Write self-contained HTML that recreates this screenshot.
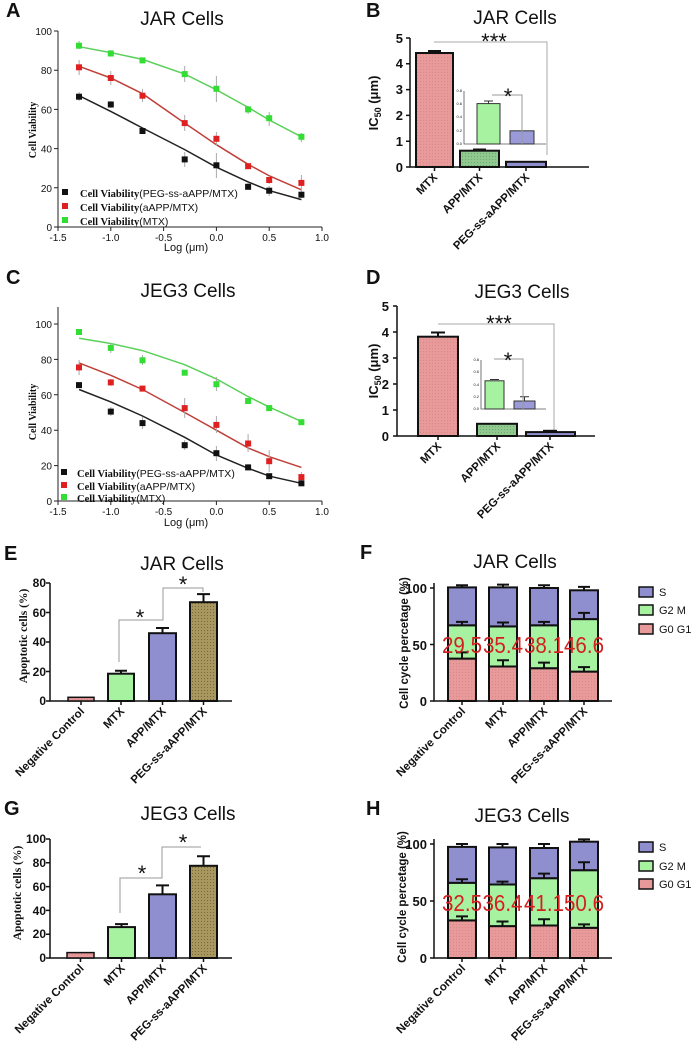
<!DOCTYPE html>
<html><head><meta charset="utf-8"><style>
body{margin:0;background:#fff}
svg{display:block}
text{font-family:"Liberation Sans",sans-serif;fill:#111}
.t{font-size:19px}
.L{font-size:20px;font-weight:bold}
.tk{font-size:10px}
.bt{font-size:13px;font-weight:bold}
.bt2{font-size:12px;font-weight:bold}
.xl{font-size:11.5px;font-weight:bold}
.ser{font-family:"Liberation Serif",serif;font-weight:bold}
text.red{fill:#d42020;font-size:23px}
</style></head><body>
<svg width="694" height="1047" viewBox="0 0 694 1047" xmlns="http://www.w3.org/2000/svg">
<defs>
<pattern id="pk" width="3" height="3" patternUnits="userSpaceOnUse"><rect width="3" height="3" fill="#e89a9a"/><rect width="1" height="1" fill="#d98888"/></pattern>
<pattern id="gr" width="3" height="3" patternUnits="userSpaceOnUse"><rect width="3" height="3" fill="#8fc98f"/><rect width="1" height="1" fill="#6faa6f"/></pattern>
<pattern id="ol" width="3" height="3" patternUnits="userSpaceOnUse"><rect width="3" height="3" fill="#a89860"/><rect width="1" height="1" fill="#786838"/></pattern>
</defs>

<!-- ========== A ========== -->
<text x="6" y="17" class="L">A</text>
<text x="182" y="25" class="t" text-anchor="middle">JAR Cells</text>
<g stroke="#222" stroke-width="1" fill="none">
<path d="M58 31V227H322"/>
<path d="M58 227v4M110.8 227v4M163.6 227v4M216.4 227v4M269.2 227v4M322 227v4"/>
<path d="M58 227h-4M58 187.8h-4M58 148.6h-4M58 109.4h-4M58 70.2h-4M58 31h-4"/>
</g>
<g class="tk" text-anchor="middle"><text x="58" y="241">-1.5</text><text x="110.8" y="241">-1.0</text><text x="163.6" y="241">-0.5</text><text x="216.4" y="241">0.0</text><text x="269.2" y="241">0.5</text><text x="322" y="241">1.0</text></g>
<g class="tk" text-anchor="end"><text x="52" y="231">0</text><text x="52" y="191.8">20</text><text x="52" y="152.6">40</text><text x="52" y="113.4">60</text><text x="52" y="74.2">80</text><text x="52" y="35">100</text></g>
<text x="186" y="251" font-size="11" text-anchor="middle">Log (μm)</text>
<text transform="translate(36,130) rotate(-90)" font-size="10" class="ser" text-anchor="middle">Cell Viability</text>
<g fill="none" stroke-width="1.5">
<polyline stroke="#222" points="79.1,95.7 110.8,111.4 142.5,128 184.7,149.6 216.4,167.2 248.1,181.9 269.6,190.7 301.4,199.6"/>
<polyline stroke="#c0403a" points="79.1,66.3 110.8,78 142.5,93.7 184.7,123.1 216.4,144.7 248.1,164.3 269.6,176 301.4,189.8"/>
<polyline stroke="#5cd05c" points="79.1,46.7 110.8,52.6 142.5,59.4 184.7,74.1 216.4,89.8 248.1,107.4 269.6,120.2 301.4,136.8"/>
</g>
<g stroke="#aaa" stroke-width="1">
<path d="M79.1 92v9M110.8 101v7M142.5 128v6M184.7 152v15M216.4 153v25M248.1 183v7M269.2 186v10M301.4 190v8"/>
<path d="M79.1 60v15M110.8 71v14M142.5 89v13M184.7 115v16M216.4 132v14M248.1 163v6M269.2 176v8M301.4 175v16"/>
<path d="M79.1 41v8M110.8 50v6M142.5 58v5M184.7 66v16M216.4 76v26M248.1 106v8M269.2 112v14M301.4 133v9"/>
</g>
<g fill="#111"><rect x="76" y="93.7" width="6" height="6"/><rect x="107.8" y="101.5" width="6" height="6"/><rect x="139.5" y="128" width="6" height="6"/><rect x="181.7" y="156.4" width="6" height="6"/><rect x="213.4" y="162.3" width="6" height="6"/><rect x="245.1" y="183.8" width="6" height="6"/><rect x="266.2" y="187.7" width="6" height="6"/><rect x="298.4" y="191.7" width="6" height="6"/></g>
<g fill="#e02020"><rect x="76" y="64.3" width="6" height="6"/><rect x="107.8" y="75" width="6" height="6"/><rect x="139.5" y="92.7" width="6" height="6"/><rect x="181.7" y="120.1" width="6" height="6"/><rect x="213.4" y="135.8" width="6" height="6"/><rect x="245.1" y="163.2" width="6" height="6"/><rect x="266.2" y="177" width="6" height="6"/><rect x="298.4" y="179.9" width="6" height="6"/></g>
<g fill="#33dd33"><rect x="76" y="42.7" width="6" height="6"/><rect x="107.8" y="50.5" width="6" height="6"/><rect x="139.5" y="57.4" width="6" height="6"/><rect x="181.7" y="71.1" width="6" height="6"/><rect x="213.4" y="85.8" width="6" height="6"/><rect x="245.1" y="106.4" width="6" height="6"/><rect x="266.2" y="115.2" width="6" height="6"/><rect x="298.4" y="133.8" width="6" height="6"/></g>
<rect x="62" y="189" width="6" height="6" fill="#111"/><rect x="62" y="203" width="6" height="6" fill="#e02020"/><rect x="62" y="217" width="6" height="6" fill="#33dd33"/>
<g font-size="10.5"><text x="80" y="197"><tspan class="ser">Cell Viability</tspan>(PEG-ss-aAPP/MTX)</text><text x="80" y="211"><tspan class="ser">Cell Viability</tspan>(aAPP/MTX)</text><text x="80" y="225"><tspan class="ser">Cell Viability</tspan>(MTX)</text></g>

<!-- ========== C ========== -->
<text x="6" y="284" class="L">C</text>
<text x="188" y="297" class="t" text-anchor="middle">JEG3 Cells</text>
<g stroke="#222" stroke-width="1" fill="none">
<path d="M58 307V501H322"/>
<path d="M58 501v4M110.8 501v4M163.6 501v4M216.4 501v4M269.2 501v4M322 501v4"/>
<path d="M58 501h-4M58 465.6h-4M58 430.2h-4M58 394.8h-4M58 359.4h-4M58 324h-4"/>
</g>
<g class="tk" text-anchor="middle"><text x="58" y="515">-1.5</text><text x="110.8" y="515">-1.0</text><text x="163.6" y="515">-0.5</text><text x="216.4" y="515">0.0</text><text x="269.2" y="515">0.5</text><text x="322" y="515">1.0</text></g>
<g class="tk" text-anchor="end"><text x="52" y="505">0</text><text x="52" y="469.6">20</text><text x="52" y="434.2">40</text><text x="52" y="398.8">60</text><text x="52" y="363.4">80</text><text x="52" y="328">100</text></g>
<text x="186" y="526" font-size="11" text-anchor="middle">Log (μm)</text>
<text transform="translate(36,412) rotate(-90)" font-size="10" class="ser" text-anchor="middle">Cell Viability</text>
<g fill="none" stroke-width="1.5">
<polyline stroke="#222" points="79.1,389.5 110.8,401.9 142.5,416 184.7,437.3 216.4,455 248.1,468.3 269.6,476.2 301.4,483.3"/>
<polyline stroke="#c0403a" points="79.1,362.9 110.8,375.3 142.5,389.5 184.7,412.5 216.4,430.2 248.1,447.9 269.6,456.8 301.4,467.4"/>
<polyline stroke="#5cd05c" points="79.1,338.2 110.8,343.5 142.5,350.6 184.7,364.7 216.4,378.9 248.1,396.6 269.6,407.2 301.4,421.4"/>
</g>
<g stroke="#aaa" stroke-width="1">
<path d="M110.8 407v9M142.5 417v12M184.7 440v10M216.4 446v15M248.1 464v6"/>
<path d="M79.1 360v15M110.8 379v7M184.7 398v20M216.4 416v17M248.1 434v18M269.2 450v22M301.4 472v10"/>
<path d="M110.8 343v10M142.5 355v10M216.4 377v14"/>
</g>
<g fill="#111"><rect x="76" y="382.1" width="6" height="6"/><rect x="107.8" y="408.6" width="6" height="6"/><rect x="139.5" y="420.1" width="6" height="6"/><rect x="181.7" y="442.2" width="6" height="6"/><rect x="213.4" y="450.2" width="6" height="6"/><rect x="245.1" y="464.4" width="6" height="6"/><rect x="266.2" y="473.2" width="6" height="6"/><rect x="298.4" y="480.3" width="6" height="6"/></g>
<g fill="#e02020"><rect x="76" y="364.4" width="6" height="6"/><rect x="107.8" y="379.4" width="6" height="6"/><rect x="139.5" y="385.6" width="6" height="6"/><rect x="181.7" y="405.1" width="6" height="6"/><rect x="213.4" y="421.9" width="6" height="6"/><rect x="245.1" y="440.5" width="6" height="6"/><rect x="266.2" y="458.2" width="6" height="6"/><rect x="298.4" y="474.1" width="6" height="6"/></g>
<g fill="#33dd33"><rect x="76" y="329" width="6" height="6"/><rect x="107.8" y="344.9" width="6" height="6"/><rect x="139.5" y="357.3" width="6" height="6"/><rect x="181.7" y="369.7" width="6" height="6"/><rect x="213.4" y="381.2" width="6" height="6"/><rect x="245.1" y="398" width="6" height="6"/><rect x="266.2" y="405.1" width="6" height="6"/><rect x="298.4" y="419.2" width="6" height="6"/></g>
<rect x="61" y="469" width="6" height="6" fill="#111"/><rect x="61" y="482" width="6" height="6" fill="#e02020"/><rect x="61" y="494" width="6" height="6" fill="#33dd33"/>
<g font-size="10.5"><text x="77" y="477"><tspan class="ser">Cell Viability</tspan>(PEG-ss-aAPP/MTX)</text><text x="77" y="490"><tspan class="ser">Cell Viability</tspan>(aAPP/MTX)</text><text x="77" y="502"><tspan class="ser">Cell Viability</tspan>(MTX)</text></g>

<!-- ========== B ========== -->
<text x="366" y="17" class="L">B</text>
<text x="515" y="24" class="t" text-anchor="middle">JAR Cells</text>
<g stroke="#111" stroke-width="1.5" fill="none"><path d="M410 38V167H589"/><path d="M410 167h-4M410 141.2h-4M410 115.4h-4M410 89.6h-4M410 63.8h-4M410 38h-4M434.5 167v4M479.5 167v4M526 167v4"/></g>
<g class="bt" text-anchor="end"><text x="403" y="172">0</text><text x="403" y="146">1</text><text x="403" y="120">2</text><text x="403" y="94">3</text><text x="403" y="68">4</text><text x="403" y="43">5</text></g>
<text transform="translate(378,103) rotate(-90)" class="bt" text-anchor="middle">IC<tspan font-size="9" dy="3">50</tspan><tspan dy="-3"> (μm)</tspan></text>
<path d="M434 42H547V155" stroke="#aaa" stroke-width="1" fill="none"/>
<text x="494" y="49" font-size="22" text-anchor="middle">***</text>
<rect x="416" y="53" width="37" height="114" fill="url(#pk)" stroke="#111" stroke-width="2"/>
<path d="M434.5 53V51M428 51h13" stroke="#111" stroke-width="2"/>
<rect x="460" y="150.7" width="39" height="16.3" fill="url(#gr)" stroke="#111" stroke-width="2"/>
<path d="M473 149.5h13" stroke="#111" stroke-width="2"/>
<rect x="506" y="161.8" width="40" height="5.2" fill="#8f8fd0" stroke="#111" stroke-width="2"/>
<g stroke="#555" stroke-width="0.8" fill="none"><path d="M464 91V144H546"/></g>
<g font-size="4" text-anchor="end"><text x="462" y="145">0.0</text><text x="462" y="132">0.2</text><text x="462" y="118">0.4</text><text x="462" y="105">0.6</text><text x="462" y="92">0.8</text></g>
<rect x="477" y="103.6" width="23" height="40.4" fill="#a6f2a0" stroke="#333" stroke-width="1"/>
<path d="M488.5 103.6V101M484 101h9" stroke="#333" stroke-width="1"/>
<rect x="510" y="130.8" width="24" height="13.2" fill="#9a9ad8" stroke="#333" stroke-width="1"/>
<path d="M492 95H522V144" stroke="#999" stroke-width="1" fill="none"/>
<text x="508" y="104" font-size="22" text-anchor="middle">*</text>
<g class="xl" text-anchor="end"><text transform="translate(438,178) rotate(-45)">MTX</text><text transform="translate(483,178) rotate(-45)">APP/MTX</text><text transform="translate(530,178) rotate(-45)">PEG-ss-aAPP/MTX</text></g>

<!-- ========== D ========== -->
<text x="366" y="284" class="L">D</text>
<text x="522" y="298" class="t" text-anchor="middle">JEG3 Cells</text>
<g stroke="#111" stroke-width="1.5" fill="none"><path d="M397 306V436H595"/><path d="M397 436h-4M397 410h-4M397 384h-4M397 358h-4M397 332h-4M397 306h-4M438 436v4M497 436v4M550 436v4"/></g>
<g class="bt" text-anchor="end"><text x="389" y="441">0</text><text x="389" y="415">1</text><text x="389" y="389">2</text><text x="389" y="363">3</text><text x="389" y="337">4</text><text x="389" y="311">5</text></g>
<text transform="translate(378,371) rotate(-90)" class="bt" text-anchor="middle">IC<tspan font-size="9" dy="3">50</tspan><tspan dy="-3"> (μm)</tspan></text>
<path d="M438 324H554V435" stroke="#aaa" stroke-width="1" fill="none"/>
<text x="499" y="331" font-size="22" text-anchor="middle">***</text>
<rect x="418" y="336.7" width="40" height="99.3" fill="url(#pk)" stroke="#111" stroke-width="2"/>
<path d="M438 336.7V332.5M431 332.5h14" stroke="#111" stroke-width="2"/>
<rect x="477" y="423.8" width="40" height="12.2" fill="url(#gr)" stroke="#111" stroke-width="2"/>
<rect x="526" y="432.1" width="49" height="3.9" fill="#8f8fd0" stroke="#111" stroke-width="2"/>
<path d="M543 430.8h14" stroke="#111" stroke-width="2"/>
<g stroke="#555" stroke-width="0.8" fill="none"><path d="M481 360V409H546"/></g>
<g font-size="4" text-anchor="end"><text x="479" y="410">0.0</text><text x="479" y="398">0.2</text><text x="479" y="386">0.4</text><text x="479" y="373">0.6</text><text x="479" y="361">0.8</text></g>
<rect x="485" y="380.8" width="19" height="28.2" fill="#a6f2a0" stroke="#333" stroke-width="1"/>
<path d="M490 379.5h9" stroke="#333" stroke-width="1"/>
<rect x="514" y="401" width="21" height="8" fill="#9a9ad8" stroke="#333" stroke-width="1"/>
<path d="M524.5 401V396.8M520 396.8h9" stroke="#333" stroke-width="1"/>
<path d="M494 359H523V409" stroke="#999" stroke-width="1" fill="none"/>
<text x="508" y="368" font-size="22" text-anchor="middle">*</text>
<g class="xl" text-anchor="end"><text transform="translate(442,447) rotate(-45)">MTX</text><text transform="translate(501,447) rotate(-45)">APP/MTX</text><text transform="translate(554,447) rotate(-45)">PEG-ss-aAPP/MTX</text></g>

<!-- ========== E ========== -->
<text x="4" y="560" class="L">E</text>
<text x="182" y="570" class="t" text-anchor="middle">JAR Cells</text>
<g stroke="#111" stroke-width="1.5" fill="none"><path d="M50 583V701H232"/><path d="M50 701h-4M50 671.5h-4M50 642h-4M50 612.5h-4M50 583h-4M81 701v4M121 701v4M162.5 701v4M203.5 701v4"/></g>
<g class="bt2" text-anchor="end"><text x="46" y="705">0</text><text x="46" y="676">20</text><text x="46" y="646">40</text><text x="46" y="617">60</text><text x="46" y="587">80</text></g>
<text transform="translate(27,636) rotate(-90)" font-size="11.5" class="ser" text-anchor="middle">Apoptotic cells (%)</text>
<rect x="68" y="697.3" width="26" height="3.7" fill="url(#pk)" stroke="#111" stroke-width="1.5"/>
<rect x="108" y="673.7" width="26" height="27.3" fill="#a6f2a0" stroke="#111" stroke-width="2"/>
<path d="M121 673.7V670.8M115 670.8h12" stroke="#111" stroke-width="2"/>
<rect x="149" y="633.2" width="27" height="67.8" fill="#8f8fd0" stroke="#111" stroke-width="2"/>
<path d="M162.5 633.2V628M156 628h13" stroke="#111" stroke-width="2"/>
<rect x="190" y="602.2" width="27" height="98.8" fill="url(#ol)" stroke="#111" stroke-width="2"/>
<path d="M203.5 602.2V594.1M197 594.1h13" stroke="#111" stroke-width="2"/>
<path d="M119 662V620H163V588H203V592" stroke="#999" stroke-width="1" fill="none"/>
<text x="140" y="625" font-size="22" text-anchor="middle">*</text>
<text x="183" y="592" font-size="22" text-anchor="middle">*</text>
<g class="xl" text-anchor="end"><text transform="translate(85,712) rotate(-45)">Negative Control</text><text transform="translate(125,712) rotate(-45)">MTX</text><text transform="translate(166.5,712) rotate(-45)">APP/MTX</text><text transform="translate(207.5,712) rotate(-45)">PEG-ss-aAPP/MTX</text></g>

<!-- ========== G ========== -->
<text x="4" y="815" class="L">G</text>
<text x="188" y="820" class="t" text-anchor="middle">JEG3 Cells</text>
<g stroke="#111" stroke-width="1.5" fill="none"><path d="M50 839V958H232"/><path d="M50 958h-4M50 934.2h-4M50 910.4h-4M50 886.6h-4M50 862.8h-4M50 839h-4M80.5 958v4M121.5 958v4M162.5 958v4M203.5 958v4"/></g>
<g class="bt2" text-anchor="end"><text x="46" y="962">0</text><text x="46" y="938">20</text><text x="46" y="915">40</text><text x="46" y="891">60</text><text x="46" y="867">80</text><text x="46" y="843">100</text></g>
<text transform="translate(21,893) rotate(-90)" font-size="11.5" class="ser" text-anchor="middle">Apoptotic cells (%)</text>
<rect x="67" y="952.6" width="27" height="5.4" fill="url(#pk)" stroke="#111" stroke-width="1.5"/>
<rect x="108" y="927.1" width="27" height="30.9" fill="#a6f2a0" stroke="#111" stroke-width="2"/>
<path d="M121.5 927.1V924.1M115 924.1h13" stroke="#111" stroke-width="2"/>
<rect x="149" y="894.3" width="27" height="63.7" fill="#8f8fd0" stroke="#111" stroke-width="2"/>
<path d="M162.5 894.3V885.4M156 885.4h13" stroke="#111" stroke-width="2"/>
<rect x="190" y="865.8" width="27" height="92.2" fill="url(#ol)" stroke="#111" stroke-width="2"/>
<path d="M203.5 865.8V856.3M197 856.3h13" stroke="#111" stroke-width="2"/>
<path d="M120 913V878H162V847H201" stroke="#999" stroke-width="1" fill="none"/>
<text x="142" y="881" font-size="22" text-anchor="middle">*</text>
<text x="183" y="850" font-size="22" text-anchor="middle">*</text>
<g class="xl" text-anchor="end"><text transform="translate(84.5,969) rotate(-45)">Negative Control</text><text transform="translate(125.5,969) rotate(-45)">MTX</text><text transform="translate(166.5,969) rotate(-45)">APP/MTX</text><text transform="translate(207.5,969) rotate(-45)">PEG-ss-aAPP/MTX</text></g>

<!-- ========== F ========== -->
<text x="360" y="559" class="L">F</text>
<text x="515" y="568" class="t" text-anchor="middle">JAR Cells</text>
<g stroke="#111" stroke-width="1.5" fill="none"><path d="M434 583V701H612"/><path d="M434 701h-4M434 644.5h-4M434 588h-4M462 701v4M503 701v4M544 701v4M584 701v4"/></g>
<g class="bt" text-anchor="end"><text x="427" y="706">0</text><text x="427" y="650">50</text><text x="427" y="593">100</text></g>
<text transform="translate(408,643) rotate(-90)" font-size="11.5" font-weight="bold" text-anchor="middle">Cell cycle percetage (%)</text>
<g stroke="#111" stroke-width="2">
<rect x="448" y="658.6" width="28" height="42.4" fill="url(#pk)"/><rect x="448" y="625.3" width="28" height="33.3" fill="#a6f2a0"/><rect x="448" y="587.4" width="28" height="37.9" fill="#8f8fd0"/>
<rect x="489" y="666.5" width="28" height="34.5" fill="url(#pk)"/><rect x="489" y="626.4" width="28" height="40.1" fill="#a6f2a0"/><rect x="489" y="587.4" width="28" height="39" fill="#8f8fd0"/>
<rect x="530" y="668.2" width="28" height="32.8" fill="url(#pk)"/><rect x="530" y="625.3" width="28" height="42.9" fill="#a6f2a0"/><rect x="530" y="588" width="28" height="37.3" fill="#8f8fd0"/>
<rect x="570" y="671.6" width="28" height="29.4" fill="url(#pk)"/><rect x="570" y="619.1" width="28" height="52.5" fill="#a6f2a0"/><rect x="570" y="590.3" width="28" height="28.8" fill="#8f8fd0"/>
<path d="M462 658.6V652.4M456 652.4h12M462 625.3V621.9M456 621.9h12M462 587.4V585.2M456 585.2h12"/>
<path d="M503 666.5V660.3M497 660.3h12M503 626.4V622.5M497 622.5h12M503 587.4V584.6M497 584.6h12"/>
<path d="M544 668.2V662.6M538 662.6h12M544 625.3V621.9M538 621.9h12M544 588V585.2M538 585.2h12"/>
<path d="M584 671.6V667.1M578 667.1h12M584 619.1V612.9M578 612.9h12M584 590.3V586.9M578 586.9h12"/>
</g>
<text class="red" x="442" y="653" textLength="40" lengthAdjust="spacingAndGlyphs">29.5</text>
<text class="red" x="483" y="653" textLength="40" lengthAdjust="spacingAndGlyphs">35.4</text>
<text class="red" x="524" y="653" textLength="40" lengthAdjust="spacingAndGlyphs">38.1</text>
<text class="red" x="564" y="653" textLength="40" lengthAdjust="spacingAndGlyphs">46.6</text>
<rect x="639" y="587" width="14" height="10" fill="#8f8fd0" stroke="#111" stroke-width="1.5"/>
<rect x="639" y="605" width="14" height="10" fill="#a6f2a0" stroke="#111" stroke-width="1.5"/>
<rect x="639" y="624" width="14" height="10" fill="#e89a9a" stroke="#111" stroke-width="1.5"/>
<g font-size="11"><text x="659" y="596">S</text><text x="659" y="614">G2 M</text><text x="659" y="633">G0 G1</text></g>
<g class="xl" text-anchor="end"><text transform="translate(466,712) rotate(-45)">Negative Control</text><text transform="translate(507,712) rotate(-45)">MTX</text><text transform="translate(548,712) rotate(-45)">APP/MTX</text><text transform="translate(588,712) rotate(-45)">PEG-ss-aAPP/MTX</text></g>

<!-- ========== H ========== -->
<text x="366" y="815" class="L">H</text>
<text x="522" y="822" class="t" text-anchor="middle">JEG3 Cells</text>
<g stroke="#111" stroke-width="1.5" fill="none"><path d="M434 839V958H612"/><path d="M434 958h-4M434 901h-4M434 844h-4M462 958v4M502.5 958v4M544 958v4M584 958v4"/></g>
<g class="bt" text-anchor="end"><text x="427" y="963">0</text><text x="427" y="906">50</text><text x="427" y="849">100</text></g>
<text transform="translate(406,897) rotate(-90)" font-size="11.5" font-weight="bold" text-anchor="middle">Cell cycle percetage (%)</text>
<g stroke="#111" stroke-width="2">
<rect x="448" y="920.4" width="28" height="37.6" fill="url(#pk)"/><rect x="448" y="882.8" width="28" height="37.6" fill="#a6f2a0"/><rect x="448" y="846.9" width="28" height="35.9" fill="#8f8fd0"/>
<rect x="489" y="926.1" width="27" height="31.9" fill="url(#pk)"/><rect x="489" y="884.5" width="27" height="41.6" fill="#a6f2a0"/><rect x="489" y="847.4" width="27" height="37.1" fill="#8f8fd0"/>
<rect x="530" y="925.5" width="28" height="32.5" fill="url(#pk)"/><rect x="530" y="878.2" width="28" height="47.3" fill="#a6f2a0"/><rect x="530" y="848" width="28" height="30.2" fill="#8f8fd0"/>
<rect x="570" y="927.8" width="28" height="30.2" fill="url(#pk)"/><rect x="570" y="870.2" width="28" height="57.6" fill="#a6f2a0"/><rect x="570" y="841.7" width="28" height="28.5" fill="#8f8fd0"/>
<path d="M462 920.4V916.4M456 916.4h12M462 882.8V879.3M456 879.3h12M462 846.9V844M456 844h12"/>
<path d="M502.5 926.1V921.5M496.5 921.5h12M502.5 884.5V881.6M496.5 881.6h12M502.5 847.4V844M496.5 844h12"/>
<path d="M544 925.5V919.2M538 919.2h12M544 878.2V873.6M538 873.6h12M544 848V844M538 844h12"/>
<path d="M584 927.8V924.4M578 924.4h12M584 870.2V862.2M578 862.2h12M584 841.7V839.4M578 839.4h12"/>
</g>
<text class="red" x="442" y="911" textLength="40" lengthAdjust="spacingAndGlyphs">32.5</text>
<text class="red" x="482.5" y="911" textLength="40" lengthAdjust="spacingAndGlyphs">36.4</text>
<text class="red" x="524" y="911" textLength="40" lengthAdjust="spacingAndGlyphs">41.1</text>
<text class="red" x="564" y="911" textLength="40" lengthAdjust="spacingAndGlyphs">50.6</text>
<rect x="639" y="842" width="14" height="10" fill="#8f8fd0" stroke="#111" stroke-width="1.5"/>
<rect x="639" y="861" width="14" height="10" fill="#a6f2a0" stroke="#111" stroke-width="1.5"/>
<rect x="639" y="879" width="14" height="10" fill="#e89a9a" stroke="#111" stroke-width="1.5"/>
<g font-size="11"><text x="659" y="851">S</text><text x="659" y="870">G2 M</text><text x="659" y="888">G0 G1</text></g>
<g class="xl" text-anchor="end"><text transform="translate(466,969) rotate(-45)">Negative Control</text><text transform="translate(506.5,969) rotate(-45)">MTX</text><text transform="translate(548,969) rotate(-45)">APP/MTX</text><text transform="translate(588,969) rotate(-45)">PEG-ss-aAPP/MTX</text></g>
</svg>
</body></html>
